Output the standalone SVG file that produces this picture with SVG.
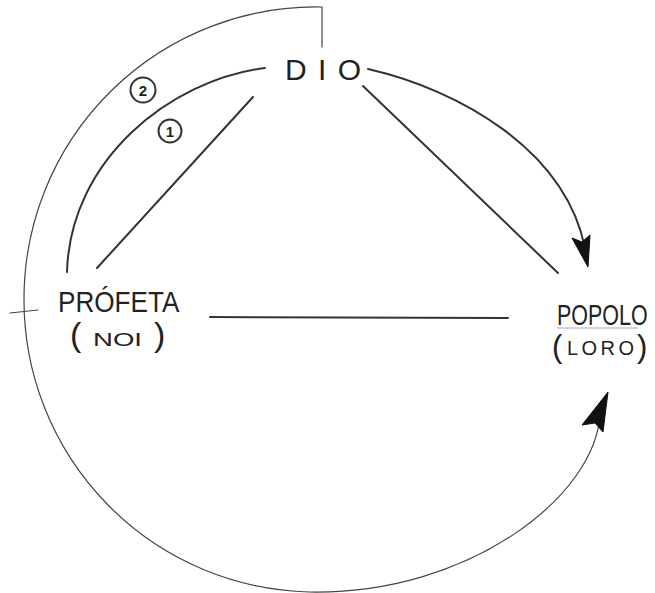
<svg xmlns="http://www.w3.org/2000/svg" width="655" height="593" viewBox="0 0 655 593">
<style>
.ln{fill:none;stroke:#333;stroke-width:2;stroke-linecap:round}
.thin{fill:none;stroke:#444;stroke-width:1.2;stroke-linecap:round}
.lbl{font-family:"Liberation Sans","DejaVu Sans",sans-serif;fill:#222}
.num{font-family:"Liberation Sans","DejaVu Sans",sans-serif;fill:#222;font-size:15px;font-weight:bold;text-anchor:middle}
.head{fill:#111;stroke:#111;stroke-width:1;stroke-linejoin:round}
</style>
<rect width="655" height="593" fill="#fff"/>
<g id="connectors">
  <path class="thin" d="M322,47 L322,7 A292,292 0 0 0 24,300 A292,292 0 0 0 309,592 C470,595 597,495 600,413"/>
  <polygon class="head" points="608,392 582,425 595,423 603,432"/>
  <line class="thin" x1="10" y1="313" x2="38" y2="310"/>
  <path class="ln" d="M265,68 C170,80 70,160 67,272"/>
  <path class="ln" d="M368,69 C460,90 565,150 585,248"/>
  <polygon class="head" points="588,267 572,238 582,242 590,235"/>
  <line class="ln" x1="253" y1="97" x2="97" y2="268"/>
  <line class="ln" x1="363" y1="86" x2="558" y2="273"/>
  <line class="ln" x1="210" y1="317" x2="508" y2="318"/>
  <g id="mark2"><circle class="ln" cx="143" cy="90" r="12.5"/><text class="num" x="143" y="95.5">2</text></g>
  <g id="mark1"><circle class="ln" cx="170" cy="131" r="11.5"/><text class="num" x="170" y="136.5">1</text></g>
</g>
<g id="dio">
  <text class="lbl" x="285" y="80" font-size="30" textLength="76" lengthAdjust="spacing">DIO</text>
</g>
<g id="profeta">
  <text class="lbl" transform="translate(58,312) scale(0.87,1)" x="0" y="0" font-size="30">PRÓFETA</text>
  <text class="lbl" x="70" y="346" font-size="34">(</text>
  <text class="lbl" x="93" y="346" font-size="18" textLength="49" lengthAdjust="spacingAndGlyphs">NOI</text>
  <text class="lbl" x="154" y="346" font-size="34">)</text>
</g>
<g id="popolo">
  <text class="lbl" transform="translate(557,325) scale(0.74,1)" x="0" y="0" font-size="29">POPOLO</text>
  <line x1="557" y1="328" x2="638" y2="328" stroke="#aaa" stroke-width="1"/>
  <text class="lbl" x="552" y="357" font-size="31">(</text>
  <text class="lbl" x="567" y="355" font-size="20" textLength="67" lengthAdjust="spacing">LORO</text>
  <text class="lbl" x="637" y="357" font-size="31">)</text>
</g>
</svg>
